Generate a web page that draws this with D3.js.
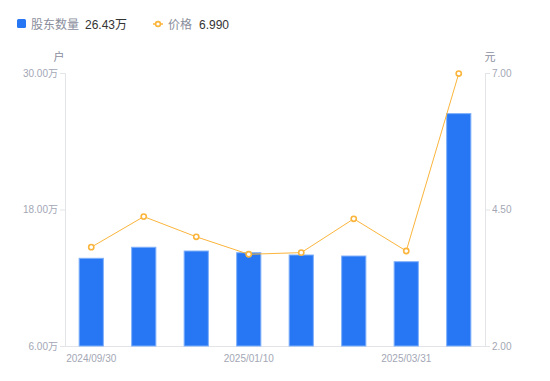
<!DOCTYPE html>
<html><head><meta charset="utf-8">
<script src="https://cdn.jsdelivr.net/npm/d3@7/dist/d3.min.js"></script>
<style>
body{margin:0;background:#fff;font-family:"Liberation Sans","Noto Sans CJK SC",sans-serif;}
</style></head>
<body><svg id="c" width="550" height="381"></svg>
<script>
const categories = ["2024/09/30","2024/10/31","2024/12/10","2025/01/10","2025/02/10","2025/03/10","2025/03/31","2025/04/30"];
const holders = [13.71, 14.68, 14.35, 14.20, 14.00, 13.91, 13.41, 26.43]; // 万户
const prices = [3.81, 4.37, 4.00, 3.68, 3.71, 4.33, 3.74, 6.99];
const leftTicks = [6, 18, 30];
const rightTicks = [2, 4.5, 7];
const shownLabels = ["2024/09/30","2025/01/10","2025/03/31"];

const FONT = '"Liberation Sans","Noto Sans CJK SC",sans-serif';
const svg = d3.select("#c").attr("font-family", FONT);
const L = 65, R = 485, T = 73, B = 346;
const x = d3.scaleBand().domain(categories).range([L, R]).paddingInner(0.52).paddingOuter(0.26);
const yL = d3.scaleLinear().domain([6, 30]).range([B, T]);
const yR = d3.scaleLinear().domain([2, 7]).range([B, T]);
const tickColor = "#a3a7b5", lineColor = "#e3e4e8";

// axes
const gl = svg.append("g").attr("transform", `translate(${L},0)`)
  .call(d3.axisLeft(yL).tickValues(leftTicks).tickSize(5).tickFormat(d => d.toFixed(2) + "万"));
const gr = svg.append("g").attr("transform", `translate(${R},0)`)
  .call(d3.axisRight(yR).tickValues(rightTicks).tickSize(5).tickFormat(d => d.toFixed(2)));
const gb = svg.append("g").attr("transform", `translate(0,${B})`)
  .call(d3.axisBottom(x).tickSize(0).tickFormat(d => shownLabels.includes(d) ? d : ""));
gb.select(".domain").attr("d", `M${L},0.5H${R}`);
[gl, gr, gb].forEach(g => {
  g.select(".domain").attr("stroke", lineColor);
  g.selectAll(".tick line").attr("stroke", lineColor);
  g.selectAll("text").attr("fill", tickColor).attr("font-size", 10).attr("font-family", FONT);
});
gl.selectAll(".tick text").attr("x", -7);
gr.selectAll(".tick text").attr("x", 7);
gb.selectAll(".tick text").attr("dy", "1.25em");

svg.append("text").attr("x", 59).attr("y", 61).attr("text-anchor", "middle")
  .attr("fill", "#8a8e9c").attr("font-size", 11).text("户");
svg.append("text").attr("x", 490).attr("y", 61).attr("text-anchor", "middle")
  .attr("fill", "#8a8e9c").attr("font-size", 11).text("元");

// bars
svg.append("g").selectAll("rect").data(categories).join("rect")
  .attr("x", (d) => x(d) + 0.5)
  .attr("y", (d, i) => yL(holders[i]))
  .attr("width", x.bandwidth() - 1)
  .attr("height", (d, i) => B - yL(holders[i]))
  .attr("fill", "#2777f4").attr("stroke", "#7fb0fa").attr("stroke-width", 1);

// price line
const cx = d => x(d) + x.bandwidth() / 2;
svg.append("path").datum(categories)
  .attr("d", d3.line().x(d => cx(d)).y((d, i) => yR(prices[i])))
  .attr("fill", "none").attr("stroke", "#fbb53c").attr("stroke-width", 1);
svg.append("g").selectAll("circle").data(categories).join("circle")
  .attr("cx", d => cx(d)).attr("cy", (d, i) => yR(prices[i])).attr("r", 2.6)
  .attr("fill", "#fff").attr("stroke", "#fbb53c").attr("stroke-width", 1.6);

// legend
const lg = svg.append("g");
lg.append("rect").attr("x", 17).attr("y", 19).attr("width", 9).attr("height", 9).attr("rx", 1.5).attr("fill", "#2777f4");
lg.append("text").attr("x", 31).attr("y", 28.5).attr("font-size", 12).attr("fill", "#8a8e9c").text("股东数量");
lg.append("text").attr("x", 85).attr("y", 28.5).attr("font-size", 12).attr("fill", "#333").text(holders[holders.length - 1].toFixed(2) + "万");
lg.append("line").attr("x1", 153).attr("x2", 163).attr("y1", 24).attr("y2", 24).attr("stroke", "#fbb53c").attr("stroke-width", 1.5);
lg.append("circle").attr("cx", 158).attr("cy", 24).attr("r", 2.4).attr("fill", "#fff").attr("stroke", "#fbb53c").attr("stroke-width", 1.6);
lg.append("text").attr("x", 168).attr("y", 28.5).attr("font-size", 12).attr("fill", "#8a8e9c").text("价格");
lg.append("text").attr("x", 199).attr("y", 28.5).attr("font-size", 12).attr("fill", "#333").text(prices[prices.length - 1].toFixed(3));
</script></body></html>
